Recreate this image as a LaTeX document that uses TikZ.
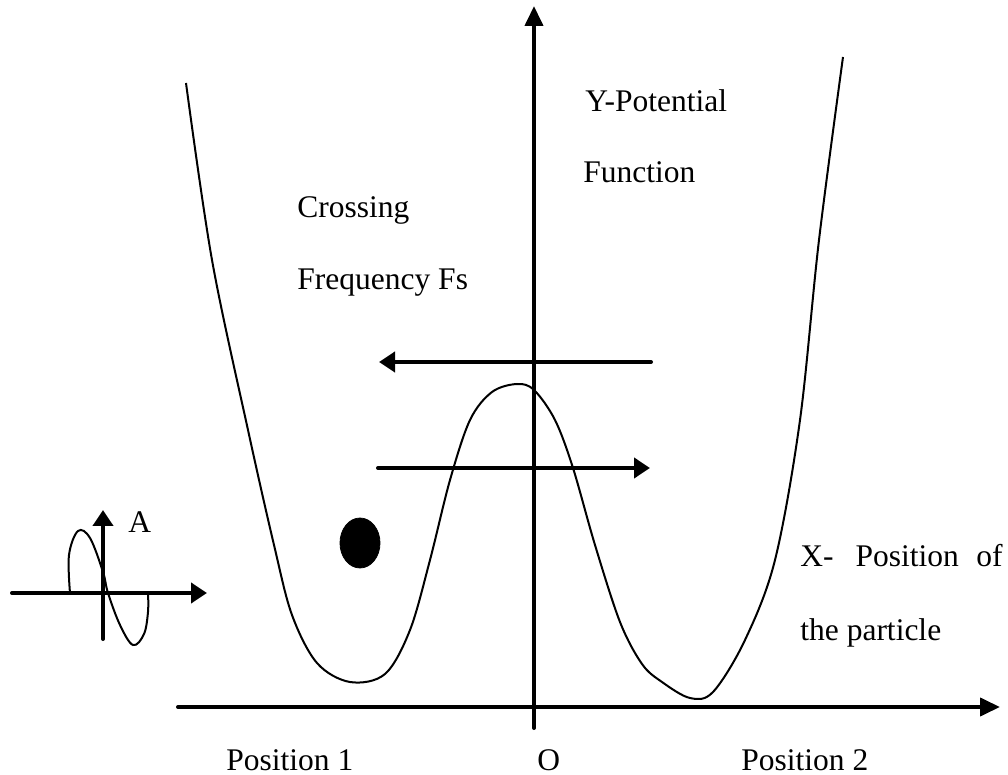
\documentclass[tikz,border=0pt]{standalone}
\usepackage{fontspec}
\setmainfont{Liberation Serif}
\usetikzlibrary{arrows.meta,shapes.geometric}
\tikzset{
  axis/.style      = {line width=2pt, line cap=round, -{Triangle[length=10pt,width=9pt]}},
  flow/.style      = {line width=2pt, line cap=round, -{Triangle[length=8pt,width=10pt]}},
  potential/.style = {line width=1pt},
  lbl/.style       = {anchor=base west, inner sep=0pt, font=\fontsize{15.75}{18}\selectfont},
}

\begin{document}
\begin{tikzpicture}[x=0.5pt,y=-0.5pt]
\useasboundingbox (0,0) rectangle (1008,775);
% main axes
\coordinate (X0) at (178,707);
\coordinate (X1) at (1000,707);
\coordinate (Y0) at (534,728);
\coordinate (Y1) at (534,6);
\draw[axis] (X0) -- (X1);
\draw[axis] (Y0) -- (Y1);
% double well potential
\draw[potential] plot[smooth, tension=0.55] coordinates {
  (186,83) (212,260) (248,430) (274,545) (292,615) (317,663)
  (350,682) (385,674) (410,630) (430,560) (450,480) (470,420) (492,392)
  (517,384) (534,390) (555,420) (573,468) (595,545) (620,622) (642,664)
  (662,682) (690,698) (713,692) (745,640) (775,560) (800,420) (819,240)
  (843,57)};
% crossing arrows
\coordinate (L1) at (651,362);
\coordinate (L0) at (379,362);
\coordinate (R0) at (378,468);
\coordinate (R1) at (650,468);
\draw[flow] (L1) -- (L0);
\draw[flow] (R0) -- (R1);
% particle
\node[draw, fill=black, ellipse, minimum width=20pt, minimum height=25pt, inner sep=0pt] (ball) at (360,543) {};
% small forcing signal
\coordinate (s0) at (12,593);
\coordinate (s1) at (207,593);
\coordinate (t0) at (103,639);
\coordinate (t1) at (103,510);
\draw[flow] (s0) -- (s1);
\draw[flow] (t0) -- (t1);
\draw[potential] plot[smooth, tension=0.6] coordinates {
  (70,593) (69,555) (78,531) (90,538) (103,572) (108,593) (120,625)
  (133,645) (144,634) (148,612) (148,593)};
% labels
\node[lbl] (ylab1) at (585,112) {Y-Potential};
\node[lbl] (ylab2) at (583,183) {Function};
\node[lbl] (cross1) at (297,218) {Crossing};
\node[lbl] (cross2) at (297,290) {Frequency Fs};
\node[lbl] (xlab1) at (800,567) {X-\hspace{0.7em}Position\hspace{0.55em}of};
\node[lbl] (xlab2) at (800,640) {the particle};
\node[lbl] (amp) at (128,532) {A};
\node[lbl] (pos1) at (226,770) {Position 1};
\node[lbl] (orig) at (537,770) {O};
\node[lbl] (pos2) at (741,770) {Position 2};
\end{tikzpicture}
\end{document}
